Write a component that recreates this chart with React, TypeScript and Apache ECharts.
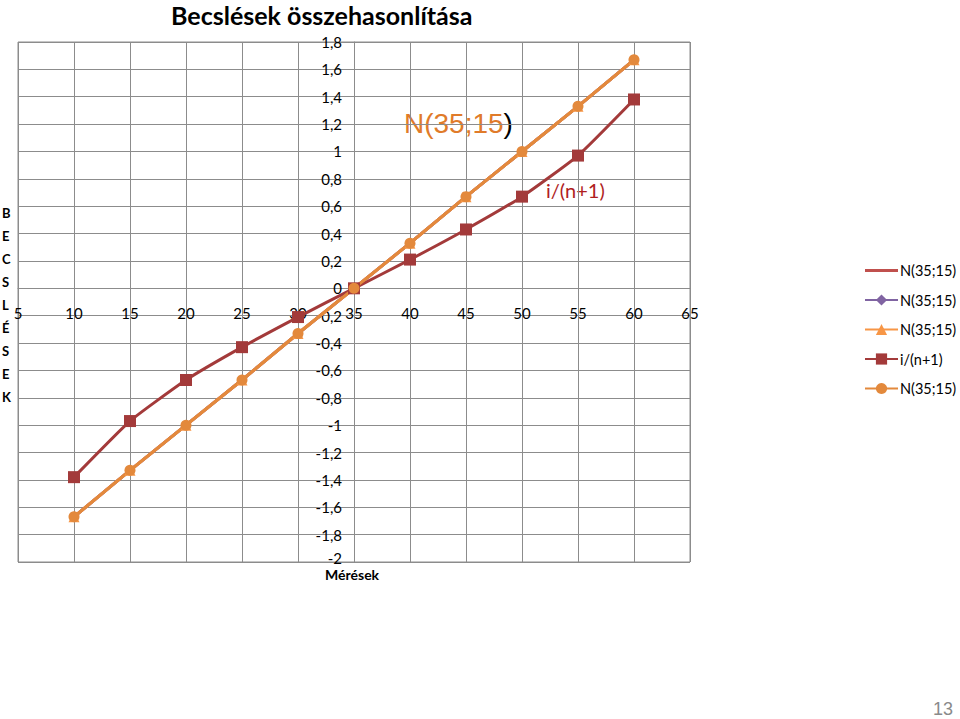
import React, { useEffect, useRef } from "react";
import * as echarts from "echarts";

const meresek = [10, 15, 20, 25, 30, 35, 40, 45, 50, 55, 60];
const normalN = [-1.67, -1.33, -1.0, -0.67, -0.33, 0, 0.33, 0.67, 1.0, 1.33, 1.67];
const normalDiamond = [-1.67, -1.33, -1.0, -0.67, -0.33, 0, 0.33, 0.67, 1.0, 1.33, 1.67];
const normalTriangle = [-1.67, -1.33, -1.0, -0.67, -0.33, 0, 0.33, 0.67, 1.0, 1.33, 1.67];
const rankValues = [-1.38, -0.97, -0.67, -0.43, -0.21, 0, 0.21, 0.43, 0.67, 0.97, 1.38];
const normalCircle = [-1.67, -1.33, -1.0, -0.67, -0.33, 0, 0.33, 0.67, 1.0, 1.33, 1.67];
const seriesNames = ["N(35;15)", "N(35;15) ", "N(35;15)  ", "i/(n+1)", "N(35;15)   "];
const yAxisLetters = ["B", "E", "C", "S", "L", "É", "S", "E", "K"];

const pairs = (ys: number[]) => meresek.map((x, i) => [x, ys[i]]);

export default function App() {
  const ref = useRef<HTMLDivElement>(null);
  useEffect(() => {
    if (!ref.current) return;
    const chart = echarts.init(ref.current, undefined, { renderer: "svg" });
    const font = "Lato";
    const grid = { left: 18, right: 270, top: 42, bottom: 157 };
    chart.setOption({
      animation: false,
      backgroundColor: "#ffffff",
      textStyle: { fontFamily: font },
      title: {
        text: "Becslések összehasonlítása",
        left: 166,
        top: -3,
        textStyle: { fontFamily: font, fontWeight: "bold", fontSize: 25, color: "#000" },
      },
      grid: { ...grid, show: true, borderColor: "#8c8c8c", borderWidth: 1 },
      legend: {
        orient: "vertical",
        left: 864,
        top: 263,
        padding: 0,
        itemWidth: 33,
        itemHeight: 14,
        itemGap: 14.5,
        itemStyle: {},
        textStyle: { fontFamily: font, fontSize: 14.5, color: "#000", padding: [0, 0, 0, -3] },
        formatter: (n: string) => n.trim(),
        data: [
          { name: seriesNames[0], icon: "path://M0,0H32V3H0Z" },
          seriesNames[1],
          seriesNames[2],
          seriesNames[3],
          seriesNames[4],
        ],
      },
      xAxis: {
        type: "value",
        min: 5,
        max: 65,
        interval: 5,
        offset: -274,
        axisLine: { onZero: false, lineStyle: { color: "#8c8c8c", width: 1 } },
        axisTick: { show: false },
        axisLabel: { margin: 17, fontSize: 15, color: "#000", fontFamily: font },
        splitLine: { show: true, lineStyle: { color: "#8c8c8c", width: 1 } },
      },
      yAxis: {
        type: "value",
        min: -2,
        max: 1.8,
        interval: 0.2,
        offset: -336,
        axisLine: { show: true, onZero: false, lineStyle: { color: "#8c8c8c", width: 1 } },
        axisTick: { show: false },
        axisLabel: {
          margin: 12,
          fontSize: 15,
          color: "#000",
          fontFamily: font,
          formatter: (v: number) => {
            const r = Math.round(v * 10) / 10;
            const s = String(r).replace(".", ",");
            return r === -2 ? "{low|" + s + "}" : s;
          },
          rich: { low: { fontSize: 15, fontFamily: font, color: "#000", padding: [0, 0, 9, 0] } },
        },
        splitLine: { show: true, lineStyle: { color: "#8c8c8c", width: 1 } },
      },
      graphic: [
        {
          type: "text",
          left: 2,
          top: 201,
          style: {
            text: yAxisLetters.join("\n"),
            font: `bold 13px ${font}`,
            lineHeight: 23,
            fill: "#000",
            align: "left",
          },
        },
        {
          type: "text",
          left: 325,
          top: 567,
          style: { text: "Mérések", font: `bold 14px ${font}`, fill: "#000" },
        },
        {
          type: "text",
          left: 404,
          top: 109,
          style: {
            text: "{o|N(35;15}{b|)}",
            rich: {
              o: { fontFamily: "Liberation Sans", fontSize: 28, fill: "#E07B2A" },
              b: { fontFamily: "Liberation Sans", fontSize: 28, fill: "#000" },
            },
          },
        },
        {
          type: "text",
          left: 546,
          top: 180,
          style: { text: "i/(n+1)", font: `20px ${font}`, fill: "#B01E1E" },
        },
        {
          type: "text",
          right: 7,
          top: 700,
          style: { text: "13", font: "18px Liberation Sans", fill: "#8a8a8a" },
        },
      ],
      series: [
        {
          name: seriesNames[0],
          type: "line",
          data: pairs(normalN),
          showSymbol: false,
          symbol: "none",
          lineStyle: { color: "#C0504D", width: 3 },
          itemStyle: { color: "#C0504D" },
        },
        {
          name: seriesNames[1],
          type: "line",
          data: pairs(normalDiamond),
          symbol: "diamond",
          symbolSize: 9,
          lineStyle: { color: "#8064A2", width: 3 },
          itemStyle: { color: "#8064A2" },
        },
        {
          name: seriesNames[2],
          type: "line",
          data: pairs(normalTriangle),
          symbol: "triangle",
          symbolSize: 11,
          lineStyle: { color: "#F79646", width: 3 },
          itemStyle: { color: "#F79646" },
        },
        {
          name: seriesNames[3],
          type: "line",
          data: pairs(rankValues),
          symbol: "rect",
          symbolSize: 12,
          smooth: 0.15,
          lineStyle: { color: "#A33A3A", width: 3 },
          itemStyle: { color: "#A33A3A" },
        },
        {
          name: seriesNames[4],
          type: "line",
          data: pairs(normalCircle),
          symbol: "circle",
          symbolSize: 11,
          lineStyle: { color: "#E3893C", width: 3 },
          itemStyle: { color: "#E3893C" },
        },
      ],
    });
    return () => chart.dispose();
  }, []);
  return (
    <div
      ref={ref}
      style={{ position: "fixed", left: 0, top: 0, width: 960, height: 719 }}
    />
  );
}
